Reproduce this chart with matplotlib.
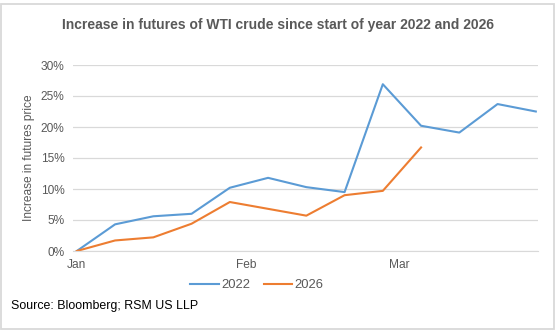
import matplotlib
matplotlib.use('Agg')
import matplotlib.pyplot as plt
import matplotlib.dates as mdates
from matplotlib.patches import Rectangle
from matplotlib.ticker import FuncFormatter
import numpy as np
import datetime as dt

plt.rcParams['font.family'] = ['Liberation Sans', 'DejaVu Sans']

# weekly points since the first trading week of the year
weeks_2022 = np.arange(13)
pct_2022 = [0.0, 4.3, 5.6, 6.0, 10.2, 11.8, 10.3, 9.5, 26.9, 20.2, 19.1, 23.7, 22.5]
weeks_2026 = np.arange(10)
pct_2026 = [0.0, 1.7, 2.2, 4.4, 7.9, 6.8, 5.7, 9.0, 9.7, 16.7]

start = dt.date(2001, 1, 1)
dates_2022 = [start + dt.timedelta(weeks=int(w)) for w in weeks_2022]
dates_2026 = [start + dt.timedelta(weeks=int(w)) for w in weeks_2026]

c_2022 = '#5B9BD5'
c_2026 = '#ED7D31'
txt = '#595959'

fig = plt.figure(figsize=(5.6, 3.35), dpi=100)
ax = fig.add_axes([73 / 560, 1 - 251 / 335, (538 - 73) / 560, (251 - 65) / 335])

ax.plot(dates_2022, pct_2022, color=c_2022, lw=1.5, label='2022')
ax.plot(dates_2026, pct_2026, color=c_2026, lw=1.5, label='2026')

ax.set_ylim(0, 30)
ax.set_yticks(np.arange(0, 31, 5))
ax.yaxis.set_major_formatter(FuncFormatter(lambda v, p: f'{v:.0f}%'))
ax.set_xlim(mdates.date2num(start) - 0.7, mdates.date2num(dates_2022[-1]) + 0.4)
ax.xaxis.set_major_locator(mdates.MonthLocator())
ax.xaxis.set_major_formatter(mdates.DateFormatter('%b'))

ax.grid(axis='y', color='#D9D9D9', lw=0.9)
ax.set_axisbelow(True)
for s in ['top', 'right', 'left']:
    ax.spines[s].set_visible(False)
ax.spines['bottom'].set_color('#D9D9D9')
ax.tick_params(length=0, colors=txt, labelsize=8.6)
ax.tick_params(axis='y', pad=6)
ax.tick_params(axis='x', pad=6)
ax.set_ylabel('Increase in futures price', color=txt, fontsize=8.6, labelpad=4)

fig.text(0.497, 1 - 25 / 335, 'Increase in futures of WTI crude since start of year 2022 and 2026',
         ha='center', va='center', fontsize=10, fontweight='bold', color=txt)
fig.legend(loc='center', bbox_to_anchor=(257 / 560, 1 - 285 / 335), ncol=2, frameon=False,
           fontsize=9.4, labelcolor=txt, handlelength=2.2, columnspacing=1.0, handletextpad=0.2)
fig.text(11 / 560, 1 - 306 / 335, 'Source: Bloomberg; RSM US LLP',
         ha='left', va='center', fontsize=8.9, color='black')

fig.patches.append(Rectangle((0.002, 1 - 329 / 335), 553 / 560, (329 - 4) / 335,
                             transform=fig.transFigure, fill=False, ec='#D9D9D9', lw=1.3))

plt.savefig('out.png', dpi=100)
